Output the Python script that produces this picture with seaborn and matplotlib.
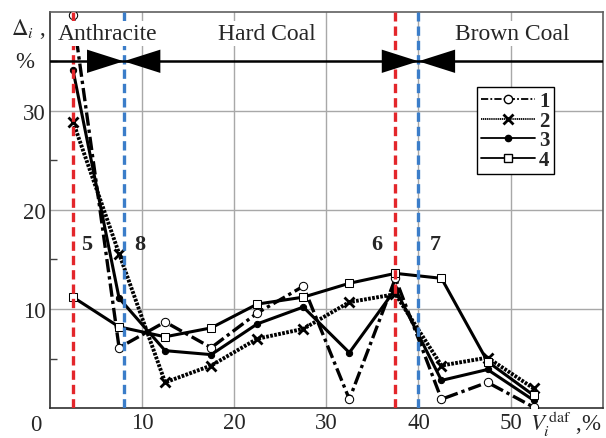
import numpy as np
import pandas as pd
import matplotlib
matplotlib.use("Agg")
import matplotlib.pyplot as plt
from matplotlib.lines import Line2D
import seaborn as sns

# values
vdaf = [2.5, 7.5, 12.5, 17.5, 22.5, 27.5, 32.5, 37.5, 42.5, 47.5, 52.5]
delta_1 = [39.7, 6.1, 8.7, 6.1, 9.6, 12.3, 0.9, 13.1, 0.9, 2.6, 0.1]
delta_2 = [28.9, 15.6, 2.6, 4.3, 7.0, 8.0, 10.7, 11.5, 4.3, 5.1, 2.0]
delta_3 = [34.1, 11.1, 5.8, 5.4, 8.5, 10.2, 5.6, 12.0, 2.8, 3.9, 0.8]
delta_4 = [11.2, 8.2, 7.2, 8.1, 10.5, 11.2, 12.6, 13.6, 13.1, 4.7, 1.3]
series_names = ["1", "2", "3", "4"]

red_bounds = [2.5, 37.5]
blue_bounds = [8, 40]
bound_labels = {"5": 4.0, "8": 9.8, "6": 35.5, "7": 41.8}
zone_labels = {"Anthracite": 6.2, "Hard Coal": 23.5, "Brown Coal": 50.2}

sns.set_theme(style="white")
plt.rcParams["font.family"] = ["Liberation Serif", "DejaVu Serif"]
plt.rcParams["mathtext.fontset"] = "stix"

df = pd.DataFrame({"vdaf": vdaf, "1": delta_1, "2": delta_2, "3": delta_3, "4": delta_4})

fig = plt.figure(figsize=(6.06, 4.39), dpi=100)
ax = fig.add_axes([0.0825, 0.068, 0.912, 0.903])

styles = {
    "1": dict(linestyle=(0, (4, 1.2, 1, 1.2)), marker="o", mfc="white", ms=6, lw=2.4),
    "2": dict(linestyle=(0, (0.7, 0.35)), marker="x", ms=7, mew=2, lw=2.8),
    "3": dict(linestyle="-", marker="o", mfc="black", ms=4.5, lw=2.2),
    "4": dict(linestyle="-", marker="s", mfc="white", ms=5.5, lw=2.2),
}
for name in series_names:
    sns.lineplot(data=df, x="vdaf", y=name, ax=ax, color="black", mec="black",
                 zorder=4, **styles[name])

for xv in red_bounds:
    ax.axvline(xv, color="#e3262b", lw=2.4, linestyle=(0, (2.8, 1.5)), zorder=5)
for xv in blue_bounds:
    ax.axvline(xv, color="#3b7dc9", lw=2.4, linestyle=(0, (2.8, 1.5)), zorder=5)

# zone boundary line with arrowheads
ax.axhline(35, color="black", lw=1.8, zorder=6)
for xb in blue_bounds:
    for side in (-1, 1):
        ax.annotate("", xy=(xb, 35), xytext=(xb + side * 3.5, 35),
                    arrowprops=dict(arrowstyle="-|>,head_length=2.2,head_width=0.7",
                                    color="black", lw=0, shrinkA=0, shrinkB=0),
                    zorder=7)

for txt, xv in zone_labels.items():
    ax.text(xv, 37.8, txt, ha="center", va="center", fontsize=17, zorder=8,
            bbox=dict(facecolor="white", edgecolor="none", pad=1.5))

for txt, xv in bound_labels.items():
    ax.text(xv, 16.6, txt, ha="center", va="center", fontsize=16, fontweight="bold",
            zorder=8)

ax.set_xlim(0, 60)
ax.set_ylim(0, 40)
ax.set_xticks([10, 20, 30, 40, 50])
ax.set_yticks([10, 20, 30])
ax.set_yticks([5, 15, 25, 35], minor=True)
ax.tick_params(axis="both", which="major", length=0, labelsize=16.5, pad=3)
ax.tick_params(axis="y", which="minor", direction="in", length=5, width=1, color="#404040", left=True)
ax.grid(True, which="major", color="#a8a8a8", lw=1)
ax.set_xlabel("")
ax.set_ylabel("")
for s in ax.spines.values():
    s.set_color("#606060")
    s.set_linewidth(1.2)
ax.spines["left"].set_color("#303030")
ax.spines["bottom"].set_color("#303030")

ax.text(-0.026, -0.042, "0", transform=ax.transAxes, ha="center", va="center", fontsize=16.5)
ax.text(0.868, -0.038, r"$V_i^{\,\mathrm{daf}}$ ,%", transform=ax.transAxes,
        ha="left", va="center", fontsize=16.5)
ax.text(-0.045, 35, "%", ha="center", va="center", fontsize=16.5,
        transform=ax.get_yaxis_transform())
ax.text(-0.04, 38.4, r"$\Delta_i$ ,", ha="center", va="center", fontsize=16.5,
        transform=ax.get_yaxis_transform())

handles = [Line2D([], [], color="black", mec="black", **dict(styles[n], lw=1.3)) for n in series_names]
leg = ax.legend(handles, series_names, loc="upper left", bbox_to_anchor=(0.772, 0.81),
                prop=dict(family="Liberation Serif", size=15, weight="bold"),
                handlelength=2.6, handletextpad=0.2, labelspacing=-0.02,
                borderpad=0.2, borderaxespad=0, fancybox=False, framealpha=1,
                edgecolor="black")
leg.get_frame().set_linewidth(1)
leg.set_zorder(9)

fig.savefig("out.png", dpi=100)
